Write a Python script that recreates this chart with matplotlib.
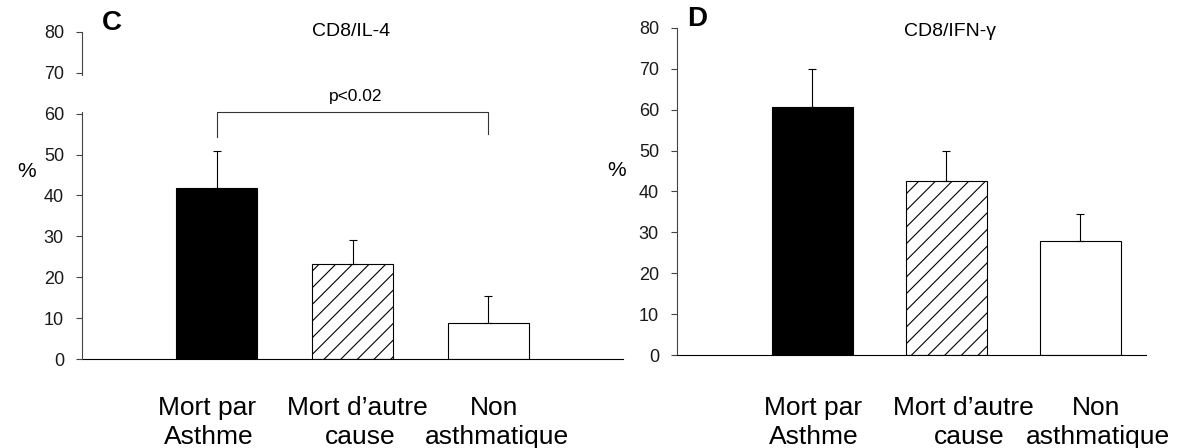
import matplotlib.pyplot as plt
import numpy as np

plt.rcParams['font.family'] = ['Liberation Sans', 'DejaVu Sans']
plt.rcParams['hatch.linewidth'] = 0.8

groups = ['Mort par Asthme', "Mort d'autre cause", 'Non asthmatique']
label_top = ['Mort par', "Mort d\u2019autre", 'Non']
label_bot = ['Asthme', 'cause', 'asthmatique']
il4_mean = [41.8, 23.2, 8.8]
il4_err = [9.1, 5.9, 6.6]
ifn_mean = [60.6, 42.5, 27.9]
ifn_err = [9.3, 7.4, 6.6]
yticks = [0, 10, 20, 30, 40, 50, 60, 70, 80]

faces = ['black', 'white', 'white']
hatches = [None, '//', None]

W, H = 1178, 448
fig = plt.figure(figsize=(W / 100, H / 100), dpi=100)
# axes boxes from pixel positions (left, bottom-from-top, right, top)
ax1 = fig.add_axes([82 / W, 1 - 359 / H, (623 - 82) / W, (359 - 32) / H])
ax2 = fig.add_axes([677 / W, 1 - 355 / H, (1146 - 677) / W, (355 - 28) / H])

x = np.arange(len(groups))


def panel(ax, means, errs, xlim, split_spine=False):
    for i in range(len(x)):
        ax.bar(x[i], means[i], width=0.6, color=faces[i], edgecolor='black',
               linewidth=0.8, hatch=hatches[i], zorder=2)
    ax.errorbar(x, means, yerr=[np.zeros(len(errs)), errs], fmt='none',
                ecolor='black', elinewidth=0.8, capsize=3, capthick=0.8, zorder=3)
    ax.set_xlim(*xlim)
    ax.set_ylim(0, 80)
    ax.set_yticks(yticks)
    ax.set_xticks([])
    ax.spines['top'].set_visible(False)
    ax.spines['right'].set_visible(False)
    ax.spines['bottom'].set_linewidth(0.8)
    ax.spines['left'].set_linewidth(0.8)
    ax.spines['left'].set_color('#444444')
    if split_spine:
        # scanned original: left axis line broken between 60 and 70
        ax.spines['left'].set_visible(False)
        for lo, hi in [(0, 60.5), (69.5, 80)]:
            ax.plot([xlim[0], xlim[0]], [lo, hi], color='#444444', lw=0.8,
                    clip_on=False, zorder=4)
    ax.tick_params(axis='y', direction='out', length=4, width=0.8,
                   labelsize=13, pad=9, colors='#444444', labelcolor='#1a1a1a')
    ax.patch.set_alpha(0)


panel(ax1, il4_mean, il4_err, (-0.99, 2.99), split_spine=True)
panel(ax2, ifn_mean, ifn_err, (-1.01, 2.49))

# significance bracket
ax1.plot([0, 0, 2, 2], [54.3, 60.4, 60.4, 55.0], color='#333333', lw=0.8)
ax1.text(1.02, 64.1, 'p<0.02', ha='center', va='center', fontsize=12.5)

fig.text(112 / W, 1 - 23 / H, 'C', fontsize=20, fontweight='bold',
         ha='center', va='center')
fig.text(697 / W, 1 - 19 / H, 'D', fontsize=20, fontweight='bold',
         ha='center', va='center')
fig.text(351 / W, 1 - 32 / H, 'CD8/IL-4', fontsize=14, ha='center', va='center')
fig.text(950 / W, 1 - 32 / H, 'CD8/IFN-\u03b3', fontsize=14, ha='center',
         va='center')

fig.text(27 / W, 1 - 171 / H, '%', fontsize=15, ha='center', va='center')
fig.text(617 / W, 1 - 170 / H, '%', fontsize=15, ha='center', va='center')

# two-line category labels, offsets in pixels from the bar centres
label_px = {
    ax1: ([-10, 5, 6], [-8, 8, 9]),
    ax2: ([1, 17, 16], [1, 23, 18]),
}
for ax, (off_top, off_bot) in label_px.items():
    for i in range(len(x)):
        cx = ax.transData.transform((x[i], 0))[0]
        fig.text((cx + off_top[i]) / W, 1 - 415 / H, label_top[i],
                 ha='center', va='baseline', fontsize=19)
        fig.text((cx + off_bot[i]) / W, 1 - 444 / H, label_bot[i],
                 ha='center', va='baseline', fontsize=19)

fig.savefig('out.png', dpi=100)
